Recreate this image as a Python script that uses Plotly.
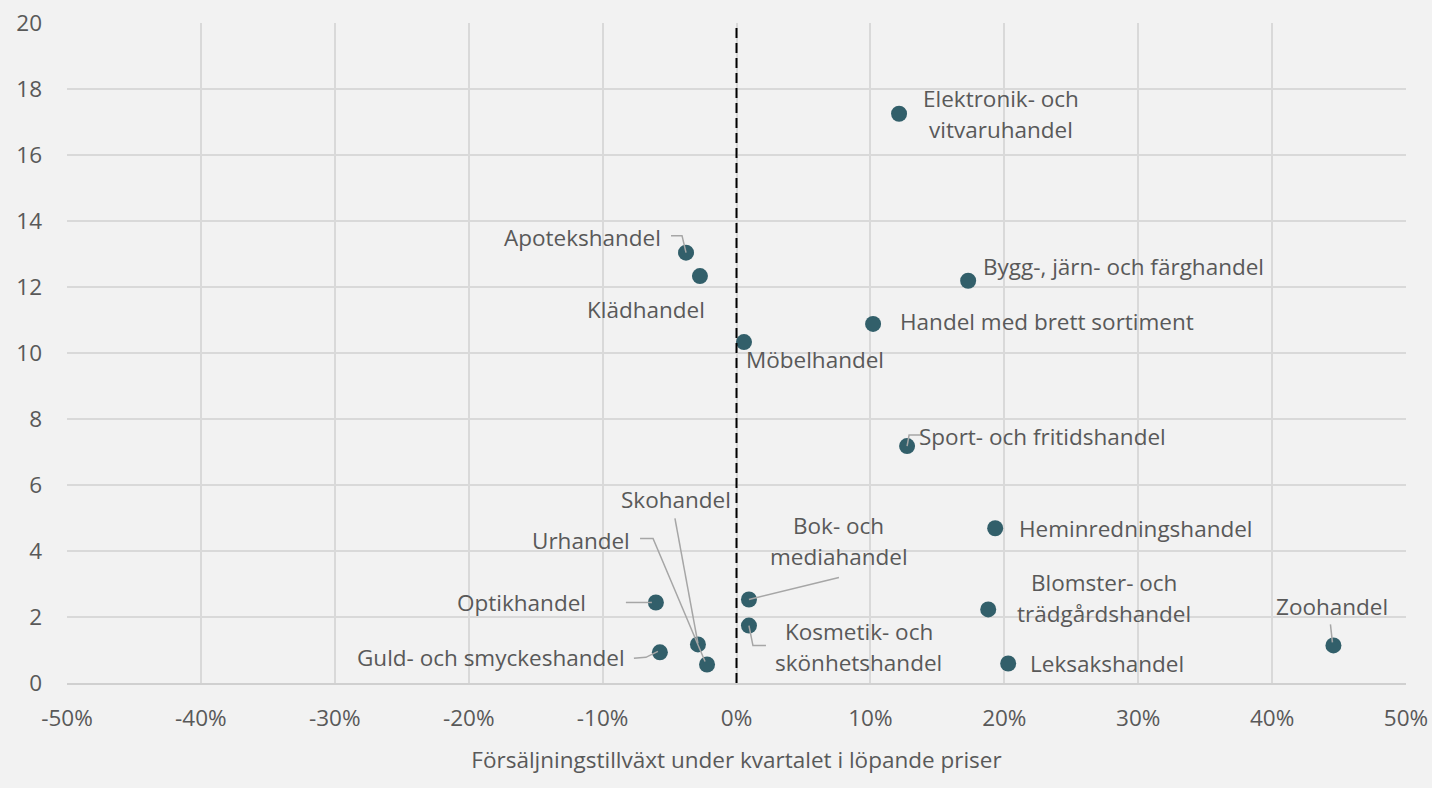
import plotly.graph_objects as go

# ---- data ----
categories = [
    "Elektronik- och vitvaruhandel", "Apotekshandel", "Klädhandel",
    "Bygg-, järn- och färghandel", "Handel med brett sortiment", "Möbelhandel",
    "Sport- och fritidshandel", "Heminredningshandel", "Blomster- och trädgårdshandel",
    "Leksakshandel", "Zoohandel", "Optikhandel", "Guld- och smyckeshandel",
    "Skohandel", "Urhandel", "Bok- och mediahandel", "Kosmetik- och skönhetshandel",
]
growth_pct = [12.14, -3.77, -2.73, 17.30, 10.20, 0.56, 12.74, 19.32, 18.80,
              20.29, 44.58, -6.02, -5.72, -2.88, -2.20, 0.93, 0.93]
y_values = [17.25, 13.04, 12.33, 12.19, 10.88, 10.33, 7.18, 4.69, 2.23,
            0.59, 1.14, 2.44, 0.93, 1.17, 0.56, 2.53, 1.74]
label_text = [
    "Elektronik- och<br>vitvaruhandel", "Apotekshandel", "Klädhandel",
    "Bygg-, järn- och färghandel", "Handel med brett sortiment", "Möbelhandel",
    "Sport- och fritidshandel", "Heminredningshandel", "Blomster- och<br>trädgårdshandel",
    "Leksakshandel", "Zoohandel", "Optikhandel", "Guld- och smyckeshandel",
    "Skohandel", "Urhandel", "Bok- och<br>mediahandel", "Kosmetik- och<br>skönhetshandel",
]
x_tickvals = [-50, -40, -30, -20, -10, 0, 10, 20, 30, 40, 50]
x_ticktext = ["-50%", "-40%", "-30%", "-20%", "-10%", "0%", "10%", "20%", "30%", "40%", "50%"]
y_tickvals = [0, 2, 4, 6, 8, 10, 12, 14, 16, 18, 20]
x_title = "Försäljningstillväxt under kvartalet i löpande priser"

# ---- label placement (pixel offsets from each point; y up) ----
label_shift = {
    "Elektronik- och vitvaruhandel": (102, 0),
    "Apotekshandel": (-104, 15),
    "Klädhandel": (-54, -33),
    "Bygg-, järn- och färghandel": (155, 14),
    "Handel med brett sortiment": (174, 2),
    "Möbelhandel": (71, -17),
    "Sport- och fritidshandel": (135, 10),
    "Heminredningshandel": (141, 0),
    "Blomster- och trädgårdshandel": (116, 11),
    "Leksakshandel": (99, 0),
    "Zoohandel": (-1, 39),
    "Optikhandel": (-134, 0),
    "Guld- och smyckeshandel": (-169, -5),
    "Skohandel": (-22, 145),
    "Urhandel": (-126, 124),
    "Bok- och mediahandel": (90, 59),
    "Kosmetik- och skönhetshandel": (110, -21),
}
leader_paths = {
    "Apotekshandel": "M -15,17 L -4,17 L 0,0",
    "Sport- och fritidshandel": "M 0,0 L 2,11 L 15,11",
    "Zoohandel": "M -3,21 L -1,3",
    "Optikhandel": "M -30,0 L -4,0",
    "Guld- och smyckeshandel": "M -26,-6 L -14,-5 L -2,1",
    "Skohandel": "M -23,126 L 0,1",
    "Urhandel": "M -67,126 L -54,126 L -2,3",
    "Bok- och mediahandel": "M 90,22 L 0,0",
    "Kosmetik- och skönhetshandel": "M 0,0 L 4,-20 L 17,-20",
}
LINE_GAP = 31  # pixel distance between lines of a two-line label

FONT = "Open Sans"
TXT = "#595959"
BG = "#f2f2f2"
GRID = "#d9d9d9"
FS = 22.5

fig = go.Figure()
fig.add_trace(go.Scatter(
    x=growth_pct, y=y_values, mode="markers", text=categories,
    marker=dict(size=16, color="#325f6a"), hoverinfo="text", showlegend=False,
))

shapes = [dict(type="line", xref="x", yref="paper", x0=0, x1=0, y0=0, y1=1,
               line=dict(color="black", width=2, dash="10px,5px"), layer="above")]
for cat, gx, yy in zip(categories, growth_pct, y_values):
    if cat in leader_paths:
        shapes.append(dict(type="path", xref="x", yref="y", xsizemode="pixel", ysizemode="pixel",
                           xanchor=gx, yanchor=yy, path=leader_paths[cat],
                           line=dict(color="#a6a6a6", width=1.5), layer="above"))

annotations = []
for cat, lbl, gx, yy in zip(categories, label_text, growth_pct, y_values):
    dx, dy = label_shift[cat]
    lines = lbl.split("<br>")
    n = len(lines)
    for i, line in enumerate(lines):
        off = ((n - 1) / 2 - i) * LINE_GAP
        annotations.append(dict(x=gx, y=yy, xref="x", yref="y", text=line, showarrow=False,
                                xshift=dx, yshift=dy + off, align="center",
                                font=dict(family=FONT, size=FS, color=TXT)))

fig.update_layout(
    width=1432, height=788,
    paper_bgcolor=BG, plot_bgcolor=BG,
    margin=dict(l=67, r=26, t=23, b=105, autoexpand=False),
    font=dict(family=FONT, size=FS, color=TXT),
    shapes=shapes, annotations=annotations,
    xaxis=dict(range=[-50, 50], tickvals=x_tickvals, ticktext=x_ticktext,
               showgrid=True, gridcolor=GRID, gridwidth=1.5, zeroline=False,
               showline=True, linecolor="#d0d0d0", linewidth=1.5,
               ticks="", ticklabelstandoff=14, automargin=False,
               title=dict(text=x_title, standoff=20, font=dict(family=FONT, size=FS, color=TXT)),
               tickfont=dict(family=FONT, size=FS, color=TXT)),
    yaxis=dict(range=[0, 20], tickvals=y_tickvals,
               showgrid=True, gridcolor=GRID, gridwidth=1.5, zeroline=False,
               showline=False, ticks="", ticklabelstandoff=24, automargin=False,
               tickfont=dict(family=FONT, size=FS, color=TXT)),
)

fig.write_html("out.html", config={"displayModeBar": False},
               post_script="document.body.style.margin='0px';document.body.style.background='#f2f2f2';")
